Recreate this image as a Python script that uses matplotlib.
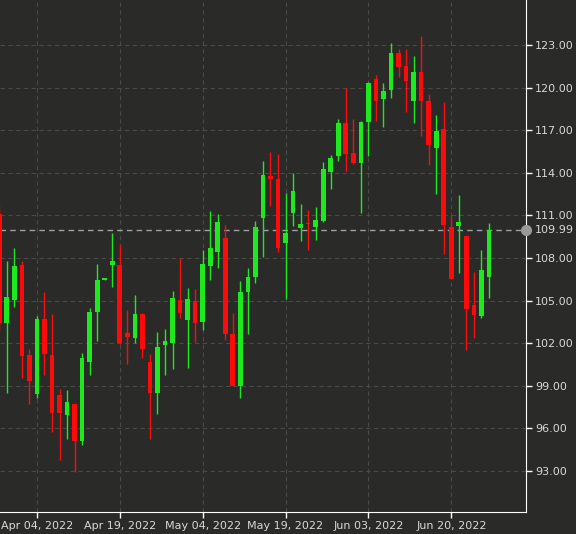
import matplotlib
matplotlib.use("Agg")
import matplotlib.pyplot as plt
import numpy as np

# Daily OHLC values
opens = [111.11, 103.40, 105.03, 107.50, 101.14, 98.45, 103.68, 101.14, 98.38, 96.96,
         97.74, 95.12, 100.71, 104.18, 106.48, 107.50, 107.50, 102.69, 102.34, 104.04,
         100.71, 98.52, 101.85, 101.99, 105.03, 103.61, 104.96, 103.47, 107.43, 108.43,
         109.42, 102.62, 98.95, 105.60, 106.66, 110.83, 113.80, 113.59, 109.06, 111.18,
         110.12, 110.44, 110.20, 110.62, 114.09, 115.22, 117.48, 115.43, 114.72, 117.55,
         120.59, 119.18, 119.82, 122.43, 121.51, 119.04, 121.09, 119.04, 115.78, 117.06,
         110.20, 110.27, 109.56, 104.67, 103.90, 106.66]
closes = [103.40, 105.24, 107.43, 101.07, 99.37, 103.68, 101.21, 97.11, 97.11, 97.88,
          95.12, 100.93, 104.18, 106.44, 106.52, 107.79, 101.99, 102.41, 104.04, 101.56,
          98.52, 101.70, 102.13, 105.17, 104.11, 105.10, 103.40, 107.58, 108.71, 110.55,
          102.62, 98.95, 105.60, 106.66, 110.20, 113.87, 113.59, 108.71, 109.77, 112.74,
          110.41, 110.37, 110.69, 114.30, 115.08, 117.48, 115.36, 114.72, 117.55, 120.31,
          119.04, 119.75, 122.43, 121.44, 120.45, 121.09, 119.04, 115.93, 116.92, 110.34,
          106.52, 110.55, 104.39, 103.97, 107.15, 109.99]
highs = [111.67, 107.79, 108.71, 107.79, 101.56, 103.90, 105.60, 104.04, 98.80, 98.73,
         97.74, 101.28, 104.46, 107.57, 106.52, 109.77, 108.92, 104.32, 105.38, 104.11,
         101.21, 102.77, 102.98, 105.67, 108.00, 105.88, 105.81, 108.57, 111.33, 111.11,
         110.34, 104.11, 106.37, 107.29, 110.62, 114.86, 115.50, 115.36, 112.60, 114.01,
         111.82, 111.40, 111.61, 114.79, 115.29, 117.83, 119.96, 117.83, 117.69, 120.38,
         120.88, 120.31, 123.14, 122.72, 122.72, 122.22, 123.64, 119.53, 118.05, 118.97,
         110.97, 112.46, 109.56, 107.01, 108.57, 110.48]
lows = [102.84, 98.52, 104.53, 99.58, 97.74, 98.17, 99.79, 95.76, 93.78, 95.27,
        92.93, 94.84, 99.79, 102.13, 106.44, 105.95, 101.92, 100.50, 101.99, 100.99,
        95.27, 97.04, 99.79, 100.15, 103.76, 100.22, 102.06, 102.90, 106.45, 107.29,
        102.20, 98.95, 98.17, 102.62, 106.23, 108.07, 111.67, 108.43, 105.10, 110.27,
        109.20, 108.57, 109.27, 110.55, 112.88, 114.86, 114.16, 114.65, 111.18, 115.22,
        117.62, 117.20, 119.25, 120.74, 118.26, 117.48, 116.63, 114.58, 112.53, 108.28,
        106.52, 106.94, 101.49, 102.34, 103.76, 105.17]
date_ticks = [5, 16, 27, 38, 49, 60]
date_labels = ["Apr 04, 2022", "Apr 19, 2022", "May 04, 2022", "May 19, 2022",
               "Jun 03, 2022", "Jun 20, 2022"]
price_ticks = [93, 96, 99, 102, 105, 108, 111, 114, 117, 120, 123]
last_price = 109.99

BG = "#2a2b29"
GREEN = "#1ee81e"
RED = "#ff0a0a"
TXT = "#d8d8d8"

fig = plt.figure(figsize=(5.76, 5.34), dpi=100, facecolor=BG)
ax = fig.add_axes([0, 0.041, 0.913, 0.959], facecolor=BG)

x = np.arange(len(opens))
for i in x:
    o, c, h, l = opens[i], closes[i], highs[i], lows[i]
    col = GREEN if c >= o else RED
    ax.vlines(i, l, h, color=col, lw=1, zorder=3)
    ax.bar(i, max(abs(c - o), 0.12), bottom=min(o, c), width=0.62, color=col,
           linewidth=0, zorder=4)

ax.set_xlim(0.1, 69.9)
ax.set_ylim(90.1, 126.18)
ax.yaxis.tick_right()
ax.set_yticks(price_ticks)
ax.set_yticklabels([f"{p:.2f}" for p in price_ticks])
ax.set_xticks(date_ticks)
ax.set_xticklabels(date_labels)
ax.tick_params(colors="white", labelcolor=TXT, labelsize=8, length=4, width=1, pad=2.5)
ax.grid(True, color="#4a4b49", linestyle=(0, (4, 3)), lw=0.8)
ax.set_axisbelow(True)
for s in ["top", "left"]:
    ax.spines[s].set_visible(False)
ax.spines["right"].set_color("white")
ax.spines["bottom"].set_color("white")

ax.axhline(last_price, color="#a0a0a0", lw=1, linestyle=(0, (4, 3)), zorder=2)
ax.plot([1.0], [last_price], marker="o", ms=7, color="#9a9a9a",
        transform=ax.get_yaxis_transform(), clip_on=False, zorder=6)
ax.annotate(f"{last_price:.2f}", (1.0, last_price), xycoords=ax.get_yaxis_transform(),
            xytext=(6.5, 0), textcoords="offset points",
            va="center", ha="left", color=TXT, fontsize=8)

fig.savefig("out.png", dpi=100, facecolor=BG)
